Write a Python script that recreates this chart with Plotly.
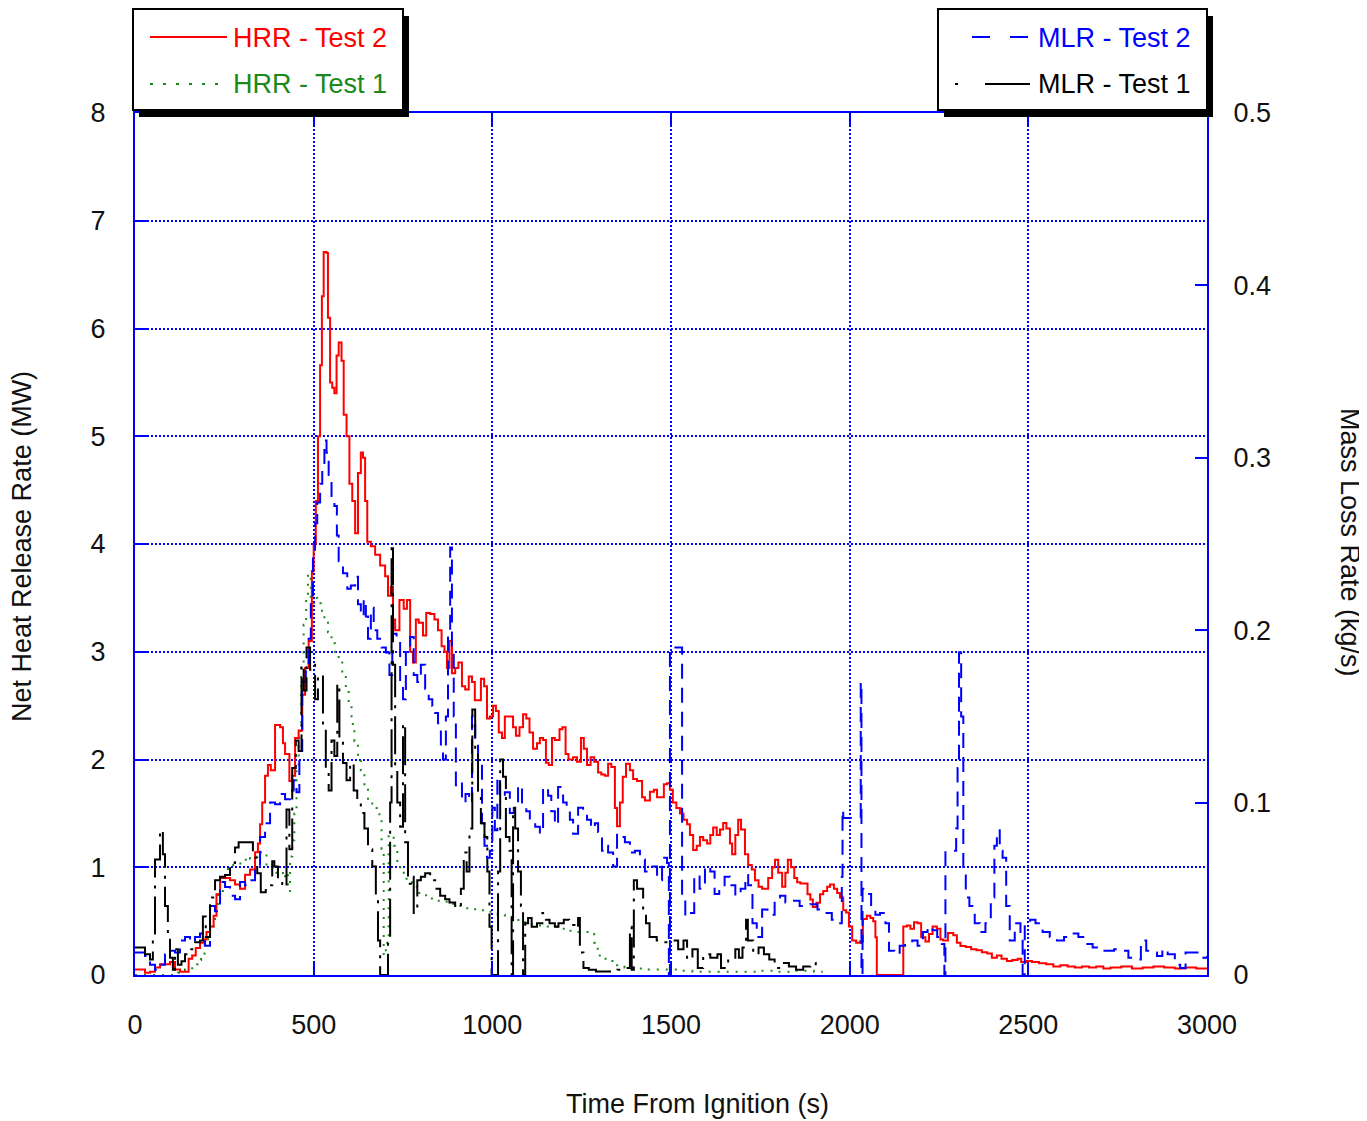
import plotly.graph_objects as go

# Time (s) / value pairs
hrr_test2 = [(0, 0.05), (14, 0.05), (28, 0.02), (42, 0.03), (56, 0.07), (70, 0.1), (84, 0.1), (98, 0.12), (112, 0.05),
             (126, 0.03), (140, 0.03), (150, 0.15), (160, 0.18), (170, 0.25), (182, 0.3), (192, 0.33), (200, 0.4),
             (210, 0.45), (220, 0.55), (228, 0.75), (238, 0.9), (252, 0.9), (266, 0.88), (280, 0.84), (294, 0.8),
             (308, 0.93), (322, 0.98), (336, 1.14), (344, 1.22), (350, 1.4), (356, 1.6), (364, 1.85), (372, 1.95),
             (380, 1.9), (392, 2.32), (406, 2.3), (414, 2.15), (420, 2.05), (432, 1.8), (440, 1.85), (448, 2.2),
             (458, 2.27), (468, 2.6), (476, 2.85), (486, 3.1), (495, 3.75), (500, 4.0), (506, 4.4), (512, 5.0),
             (518, 5.66), (523, 6.3), (528, 6.71), (536, 6.7), (540, 6.1), (546, 5.5), (552, 5.45), (558, 5.4),
             (564, 5.75), (570, 5.87), (578, 5.7), (584, 5.2), (592, 5.0), (600, 4.56), (608, 4.4), (616, 4.1),
             (624, 4.66), (632, 4.85), (638, 4.8), (644, 4.4), (650, 4.02), (660, 3.98), (672, 3.9), (686, 3.8),
             (700, 3.7), (708, 3.52), (716, 3.6), (722, 3.3), (728, 3.2), (740, 3.48), (752, 3.4), (761, 3.48),
             (770, 3.0), (778, 2.9), (786, 3.3), (794, 3.27), (806, 3.15), (815, 3.36), (826, 3.35), (838, 3.3),
             (848, 3.2), (858, 3.05), (866, 3.0), (873, 2.85), (880, 3.1), (887, 2.8), (896, 2.85), (905, 2.9),
             (915, 2.68), (924, 2.65), (934, 2.77), (943, 2.72), (951, 2.55), (960, 2.55), (968, 2.75), (977, 2.68),
             (985, 2.38), (993, 2.4), (1002, 2.5), (1010, 2.45), (1018, 2.25), (1027, 2.2), (1035, 2.4), (1047, 2.4),
             (1058, 2.3), (1066, 2.22), (1076, 2.3), (1086, 2.42), (1095, 2.38), (1104, 2.25), (1114, 2.1),
             (1125, 2.15), (1133, 2.2), (1142, 2.18), (1150, 1.97), (1158, 1.95), (1167, 2.2), (1175, 2.18),
             (1188, 2.28), (1196, 2.3), (1205, 2.05), (1213, 2.0), (1226, 2.02), (1237, 1.98), (1248, 2.2),
             (1256, 2.1), (1265, 1.95), (1275, 2.02), (1285, 1.98), (1296, 1.88), (1305, 1.86), (1315, 1.85),
             (1324, 1.96), (1333, 1.93), (1343, 1.55), (1349, 1.38), (1357, 1.6), (1365, 1.84), (1374, 1.96),
             (1385, 1.9), (1394, 1.82), (1405, 1.8), (1419, 1.65), (1427, 1.62), (1441, 1.7), (1452, 1.72),
             (1461, 1.65), (1470, 1.65), (1480, 1.77), (1489, 1.78), (1497, 1.72), (1505, 1.6), (1515, 1.55),
             (1525, 1.5), (1535, 1.44), (1545, 1.4), (1553, 1.3), (1562, 1.16), (1572, 1.2), (1581, 1.28),
             (1590, 1.25), (1601, 1.22), (1610, 1.3), (1618, 1.37), (1628, 1.3), (1637, 1.35), (1646, 1.41),
             (1655, 1.36), (1665, 1.22), (1671, 1.12), (1680, 1.3), (1688, 1.44), (1696, 1.35), (1707, 1.12),
             (1716, 1.02), (1726, 0.98), (1735, 0.88), (1745, 0.82), (1755, 0.8), (1763, 0.8), (1772, 0.9),
             (1783, 1.0), (1791, 1.07), (1800, 0.95), (1811, 0.82), (1820, 0.95), (1827, 1.07), (1836, 1.0),
             (1845, 0.9), (1853, 0.86), (1862, 0.85), (1871, 0.85), (1882, 0.75), (1890, 0.7), (1897, 0.63),
             (1907, 0.67), (1917, 0.75), (1926, 0.78), (1937, 0.82), (1945, 0.84), (1956, 0.8), (1965, 0.76),
             (1973, 0.72), (1982, 0.6), (1990, 0.58), (1998, 0.45), (2007, 0.32), (2018, 0.3), (2029, 0.31),
             (2037, 0.52), (2048, 0.55), (2058, 0.53), (2066, 0.5), (2072, 0.35), (2076, 0.0), (2148, 0.0),
             (2150, 0.45), (2160, 0.46), (2170, 0.43), (2180, 0.49), (2190, 0.48), (2200, 0.35), (2212, 0.31),
             (2222, 0.38), (2232, 0.45), (2244, 0.43), (2254, 0.33), (2262, 0.32), (2275, 0.39), (2290, 0.37),
             (2300, 0.3), (2310, 0.27), (2325, 0.26), (2340, 0.24), (2355, 0.23), (2370, 0.21), (2385, 0.2),
             (2398, 0.16), (2412, 0.18), (2425, 0.15), (2440, 0.13), (2455, 0.14), (2470, 0.15), (2480, 0.12),
             (2495, 0.13), (2510, 0.12), (2530, 0.11), (2550, 0.1), (2570, 0.08), (2590, 0.09), (2610, 0.08),
             (2630, 0.07), (2650, 0.08), (2670, 0.07), (2690, 0.08), (2710, 0.06), (2730, 0.07), (2760, 0.08),
             (2790, 0.06), (2820, 0.07), (2850, 0.08), (2880, 0.07), (2910, 0.06), (2940, 0.07), (2970, 0.06),
             (3000, 0.06)]

hrr_test1 = [(0, 0.0), (100, 0.0), (120, 0.02), (140, 0.05), (160, 0.1), (175, 0.14), (185, 0.2), (195, 0.3),
             (205, 0.4), (214, 0.45), (224, 0.6), (232, 0.75), (246, 0.88), (260, 1.0), (275, 1.02), (295, 1.05),
             (310, 1.1), (322, 1.08), (340, 1.12), (352, 1.14), (368, 1.0), (385, 0.95), (400, 0.96), (414, 0.9),
             (420, 0.95), (428, 0.78), (434, 1.1), (440, 1.25), (446, 1.5), (452, 1.9), (458, 2.2), (465, 2.9),
             (472, 3.25), (479, 3.5), (484, 3.72), (492, 3.45), (500, 3.5), (510, 3.45), (520, 3.38), (530, 3.3),
             (540, 3.18), (550, 3.08), (560, 3.0), (570, 2.92), (580, 2.78), (590, 2.65), (598, 2.5), (606, 2.33),
             (614, 2.17), (624, 2.03), (632, 1.9), (642, 1.77), (652, 1.62), (664, 1.57), (676, 1.55), (684, 1.48),
             (690, 1.17), (696, 0.18), (702, 0.3), (710, 1.3), (724, 1.2), (734, 1.0), (745, 0.95), (760, 0.86),
             (775, 0.82), (790, 0.76), (805, 0.74), (820, 0.71), (840, 0.69), (860, 0.68), (880, 0.66), (900, 0.64),
             (920, 0.62), (945, 0.61), (970, 0.6), (995, 0.57), (1015, 0.56), (1035, 0.54), (1055, 0.51),
             (1080, 0.49), (1105, 0.47), (1130, 0.46), (1155, 0.45), (1180, 0.43), (1205, 0.41), (1230, 0.4),
             (1255, 0.4), (1275, 0.38), (1285, 0.3), (1295, 0.18), (1310, 0.15), (1325, 0.13), (1345, 0.09),
             (1370, 0.07), (1400, 0.06), (1430, 0.05), (1460, 0.05), (1490, 0.05), (1520, 0.04), (1560, 0.03),
             (1600, 0.03), (1650, 0.03), (1700, 0.03), (1750, 0.04), (1800, 0.03), (1850, 0.04), (1900, 0.03),
             (1925, 0.03)]

mlr_test2 = [(0, 0.013), (14, 0.013), (28, 0.011), (42, 0.006), (56, 0.003), (70, 0.006), (84, 0.012), (98, 0.014),
             (112, 0.013), (126, 0.02), (140, 0.022), (154, 0.019), (168, 0.022), (182, 0.024), (196, 0.017),
             (210, 0.04), (224, 0.037), (238, 0.054), (252, 0.051), (266, 0.046), (280, 0.044), (294, 0.054),
             (308, 0.052), (322, 0.055), (336, 0.063), (350, 0.08), (364, 0.088), (378, 0.1), (392, 0.099),
             (406, 0.105), (420, 0.102), (434, 0.107), (444, 0.113), (452, 0.106), (460, 0.13), (468, 0.17),
             (478, 0.176), (486, 0.195), (492, 0.215), (498, 0.245), (504, 0.262), (510, 0.274), (518, 0.285),
             (524, 0.293), (530, 0.31), (536, 0.303), (542, 0.29), (550, 0.274), (558, 0.272), (565, 0.255),
             (570, 0.24), (582, 0.233), (594, 0.224), (604, 0.226), (616, 0.231), (624, 0.215), (632, 0.208),
             (640, 0.218), (646, 0.208), (652, 0.195), (660, 0.213), (668, 0.2), (678, 0.195), (690, 0.19),
             (702, 0.187), (712, 0.174), (720, 0.198), (732, 0.196), (742, 0.168), (750, 0.16), (758, 0.189),
             (770, 0.196), (780, 0.174), (790, 0.17), (800, 0.18), (812, 0.166), (822, 0.16), (832, 0.156),
             (840, 0.152), (848, 0.146), (856, 0.13), (862, 0.125), (870, 0.15), (876, 0.2), (882, 0.248),
             (887, 0.19), (892, 0.15), (898, 0.11), (905, 0.112), (915, 0.1), (925, 0.105), (935, 0.1), (943, 0.15),
             (952, 0.135), (960, 0.123), (971, 0.088), (978, 0.075), (985, 0.068), (993, 0.072), (1000, 0.097),
             (1007, 0.084), (1014, 0.115), (1021, 0.103), (1035, 0.106), (1049, 0.094), (1060, 0.1), (1072, 0.11),
             (1083, 0.1), (1095, 0.095), (1105, 0.09), (1120, 0.086), (1133, 0.082), (1142, 0.109), (1156, 0.104),
             (1165, 0.095), (1175, 0.087), (1184, 0.109), (1198, 0.1), (1208, 0.095), (1217, 0.09), (1226, 0.082),
             (1240, 0.097), (1254, 0.093), (1265, 0.09), (1276, 0.085), (1287, 0.088), (1296, 0.083), (1307, 0.072),
             (1315, 0.075), (1324, 0.071), (1338, 0.063), (1349, 0.082), (1357, 0.08), (1371, 0.077), (1385, 0.071),
             (1399, 0.072), (1413, 0.067), (1427, 0.06), (1441, 0.063), (1461, 0.055), (1475, 0.068), (1489, 0.065),
             (1494, 0.0), (1497, 0.19), (1528, 0.19), (1531, 0.045), (1540, 0.034), (1552, 0.036), (1565, 0.058),
             (1580, 0.05), (1595, 0.063), (1610, 0.06), (1622, 0.047), (1635, 0.05), (1650, 0.057), (1665, 0.052),
             (1680, 0.046), (1695, 0.05), (1708, 0.058), (1716, 0.052), (1728, 0.03), (1740, 0.022), (1755, 0.038),
             (1770, 0.035), (1790, 0.045), (1805, 0.046), (1820, 0.042), (1840, 0.043), (1860, 0.04), (1875, 0.04),
             (1890, 0.041), (1910, 0.038), (1930, 0.036), (1950, 0.032), (1965, 0.03), (1978, 0.057), (1980, 0.096),
             (1982, 0.091), (2030, 0.091), (2031, 0.17), (2033, 0.0), (2036, 0.05), (2050, 0.047), (2060, 0.04),
             (2072, 0.035), (2085, 0.036), (2100, 0.03), (2110, 0.014), (2125, 0.012), (2140, 0.017), (2155, 0.018),
             (2175, 0.02), (2190, 0.017), (2205, 0.025), (2218, 0.028), (2232, 0.026), (2245, 0.022), (2258, 0.018),
             (2265, 0.0), (2268, 0.072), (2294, 0.072), (2298, 0.085), (2302, 0.12), (2306, 0.187), (2312, 0.15),
             (2318, 0.06), (2325, 0.045), (2335, 0.04), (2350, 0.03), (2365, 0.025), (2380, 0.03), (2395, 0.045),
             (2405, 0.075), (2412, 0.084), (2420, 0.072), (2428, 0.068), (2438, 0.04), (2448, 0.02), (2462, 0.03),
             (2478, 0.022), (2484, 0.0), (2490, 0.03), (2505, 0.032), (2520, 0.03), (2540, 0.025), (2560, 0.022),
             (2580, 0.02), (2600, 0.022), (2620, 0.024), (2640, 0.022), (2660, 0.018), (2680, 0.016), (2700, 0.014),
             (2720, 0.014), (2740, 0.015), (2760, 0.014), (2780, 0.01), (2800, 0.009), (2815, 0.02), (2830, 0.014),
             (2845, 0.013), (2860, 0.011), (2875, 0.015), (2890, 0.012), (2910, 0.006), (2925, 0.004), (2940, 0.013),
             (2960, 0.013), (2980, 0.01), (3000, 0.011)]

mlr_test1 = [(0, 0.016), (14, 0.016), (28, 0.012), (42, 0.009), (50, 0.024), (56, 0.067), (70, 0.084), (78, 0.07),
             (84, 0.04), (92, 0.022), (98, 0.01), (106, 0.003), (112, 0.015), (120, 0.006), (130, 0.008), (140, 0.012),
             (154, 0.015), (168, 0.019), (182, 0.02), (190, 0.034), (198, 0.022), (210, 0.045), (224, 0.055),
             (238, 0.057), (252, 0.058), (266, 0.065), (280, 0.074), (290, 0.077), (308, 0.077), (318, 0.077),
             (330, 0.068), (342, 0.059), (352, 0.048), (366, 0.052), (384, 0.066), (390, 0.063), (400, 0.055),
             (412, 0.051), (424, 0.096), (432, 0.073), (440, 0.12), (450, 0.136), (458, 0.13), (466, 0.18),
             (472, 0.165), (480, 0.19), (490, 0.177), (496, 0.18), (504, 0.16), (512, 0.172), (518, 0.174),
             (526, 0.144), (534, 0.12), (542, 0.107), (550, 0.136), (558, 0.127), (566, 0.169), (572, 0.137),
             (582, 0.123), (592, 0.113), (602, 0.123), (612, 0.107), (622, 0.1), (632, 0.094), (642, 0.085),
             (652, 0.073), (664, 0.063), (674, 0.045), (680, 0.02), (686, 0.0), (700, 0.0), (708, 0.02), (714, 0.1),
             (718, 0.25), (722, 0.18), (728, 0.12), (734, 0.1), (742, 0.086), (750, 0.146), (756, 0.077),
             (764, 0.053), (772, 0.057), (780, 0.036), (790, 0.055), (800, 0.057), (812, 0.059), (826, 0.055),
             (840, 0.05), (854, 0.046), (868, 0.044), (880, 0.042), (896, 0.04), (906, 0.039), (912, 0.05),
             (920, 0.071), (928, 0.06), (936, 0.085), (944, 0.154), (952, 0.13), (960, 0.105), (968, 0.088),
             (978, 0.08), (986, 0.06), (992, 0.028), (998, 0.0), (1010, 0.0), (1016, 0.06), (1022, 0.125),
             (1030, 0.115), (1038, 0.08), (1048, 0.072), (1054, 0.0), (1058, 0.097), (1064, 0.085), (1072, 0.06),
             (1080, 0.04), (1086, 0.0), (1092, 0.03), (1100, 0.033), (1110, 0.028), (1125, 0.03), (1140, 0.036),
             (1150, 0.032), (1160, 0.03), (1175, 0.028), (1185, 0.03), (1200, 0.032), (1215, 0.029), (1230, 0.027),
             (1240, 0.033), (1245, 0.013), (1255, 0.004), (1270, 0.003), (1290, 0.002), (1310, 0.002), (1330, 0.002),
             (1350, 0.003), (1370, 0.004), (1385, 0.028), (1390, 0.003), (1396, 0.055), (1405, 0.05), (1415, 0.05),
             (1422, 0.037), (1430, 0.03), (1440, 0.022), (1460, 0.02), (1480, 0.019), (1500, 0.02), (1520, 0.015),
             (1535, 0.02), (1545, 0.009), (1560, 0.015), (1575, 0.004), (1590, 0.012), (1610, 0.01), (1630, 0.012),
             (1640, 0.004), (1660, 0.01), (1680, 0.015), (1690, 0.01), (1700, 0.016), (1710, 0.032), (1715, 0.02),
             (1730, 0.012), (1745, 0.016), (1760, 0.012), (1775, 0.009), (1790, 0.004), (1810, 0.007), (1830, 0.005),
             (1850, 0.003), (1870, 0.005), (1890, 0.007), (1905, 0.005), (1920, 0.004)]

x_ticks = [0, 500, 1000, 1500, 2000, 2500, 3000]
mw_ticks = [0, 1, 2, 3, 4, 5, 6, 7, 8]
kg_ticks = [0, 0.1, 0.2, 0.3, 0.4, 0.5]
kg_labels = ["0", "0.1", "0.2", "0.3", "0.4", "0.5"]

FONT = "Liberation Sans, Arial, sans-serif"
BLUE = "#0000ff"
RED = "#ff0000"
GREEN = "#1a8a1a"
INK = "#111111"

# page offset of the figure (browser body margin) and the plot area in page pixels
OFF = 8
L, R, T, B = 135, 1207, 113, 975
FIG_W, FIG_H = 1367 - OFF, 1121 - OFF


def px(x):
    return (x - L) / (R - L)


def py(y):
    return (B - y) / (B - T)


def unzip(pts):
    return [p[0] for p in pts], [p[1] for p in pts]


fig = go.Figure()

t, v = unzip(hrr_test1)
fig.add_trace(go.Scatter(x=t, y=v, mode="lines", name="HRR - Test 1",
                         line=dict(color=GREEN, width=2, dash="2px,7px", shape="hv")))
t, v = unzip(hrr_test2)
fig.add_trace(go.Scatter(x=t, y=v, mode="lines", name="HRR - Test 2",
                         line=dict(color=RED, width=2, shape="hv")))
t, v = unzip(mlr_test2)
fig.add_trace(go.Scatter(x=t, y=v, mode="lines", name="MLR - Test 2", yaxis="y2",
                         line=dict(color=BLUE, width=2, dash="15px,9px", shape="hv")))
t, v = unzip(mlr_test1)
fig.add_trace(go.Scatter(x=t, y=v, mode="lines", name="MLR - Test 1", yaxis="y2",
                         line=dict(color="black", width=2, dash="38px,8px,3px,8px", shape="hv")))

axis_common = dict(showline=True, linecolor=BLUE, linewidth=2, ticks="inside", ticklen=12,
                   tickwidth=2, tickcolor=BLUE, zeroline=False,
                   tickfont=dict(family=FONT, size=27, color=INK))

fig.update_layout(
    width=FIG_W, height=FIG_H,
    margin=dict(l=L - OFF, r=FIG_W - (R - OFF), t=T - OFF, b=FIG_H - (B - OFF)),
    paper_bgcolor="white", plot_bgcolor="white",
    showlegend=False,
    font=dict(family=FONT, color=INK),
    xaxis=dict(range=[0, 3000], tickvals=x_ticks, showgrid=True, gridcolor=BLUE, griddash="2px,2px",
               gridwidth=1.5, mirror="ticks", ticklabelstandoff=25, **axis_common),
    yaxis=dict(range=[0, 8], tickvals=mw_ticks, showgrid=True, gridcolor=BLUE, griddash="2px,2px",
               gridwidth=1.5, mirror=True, ticklabelstandoff=22, **axis_common),
    yaxis2=dict(range=[0, 0.5], tickvals=kg_ticks, ticktext=kg_labels, overlaying="y", side="right",
                showgrid=False, ticklabelstandoff=19, **axis_common),
)

# axis titles
title_font = dict(family=FONT, size=27, color=INK)
fig.add_annotation(text="Time From Ignition (s)", x=px(697), y=py(1104), xref="paper", yref="paper",
                   xanchor="center", yanchor="middle", showarrow=False, font=title_font)
fig.add_annotation(text="Net Heat Release Rate (MW)", x=px(22), y=py(547), xref="paper", yref="paper",
                   xanchor="center", yanchor="middle", showarrow=False, textangle=-90, font=title_font)
fig.add_annotation(text="Mass Loss Rate (kg/s)", x=px(1350), y=py(542), xref="paper", yref="paper",
                   xanchor="center", yanchor="middle", showarrow=False, textangle=90, font=title_font)


# legend boxes with drop shadow
def box(x0, y0, x1, y1):
    fig.add_shape(type="rect", xref="paper", yref="paper", x0=px(x0 + 6), x1=px(x1 + 6),
                  y0=py(y1 + 7), y1=py(y0 + 7), fillcolor="black", line=dict(width=0), layer="above")
    fig.add_shape(type="rect", xref="paper", yref="paper", x0=px(x0), x1=px(x1),
                  y0=py(y1), y1=py(y0), fillcolor="white", line=dict(color="black", width=2), layer="above")


def sample(x0, x1, y, color, dash="solid"):
    fig.add_shape(type="line", xref="paper", yref="paper", x0=px(x0), x1=px(x1), y0=py(y), y1=py(y),
                  line=dict(color=color, width=2, dash=dash), layer="above")


def label(text, x, y, color):
    fig.add_annotation(text=text, x=px(x), y=py(y), xref="paper", yref="paper", xanchor="left",
                       yanchor="middle", showarrow=False, font=dict(family=FONT, size=27, color=color))


box(133, 9, 403, 110)
sample(150, 227, 37, RED)
label("HRR - Test 2", 231, 38, RED)
sample(150, 228, 84, GREEN, "3px,10px")
label("HRR - Test 1", 231, 84, GREEN)

box(938, 9, 1207, 110)
sample(972, 1030, 37, BLUE, "18px,20px")
label("MLR - Test 2", 1036, 38, BLUE)
sample(955, 958, 84, "black")
sample(985, 1030, 84, "black")
label("MLR - Test 1", 1036, 84, "black")

fig.write_html("out.html")
